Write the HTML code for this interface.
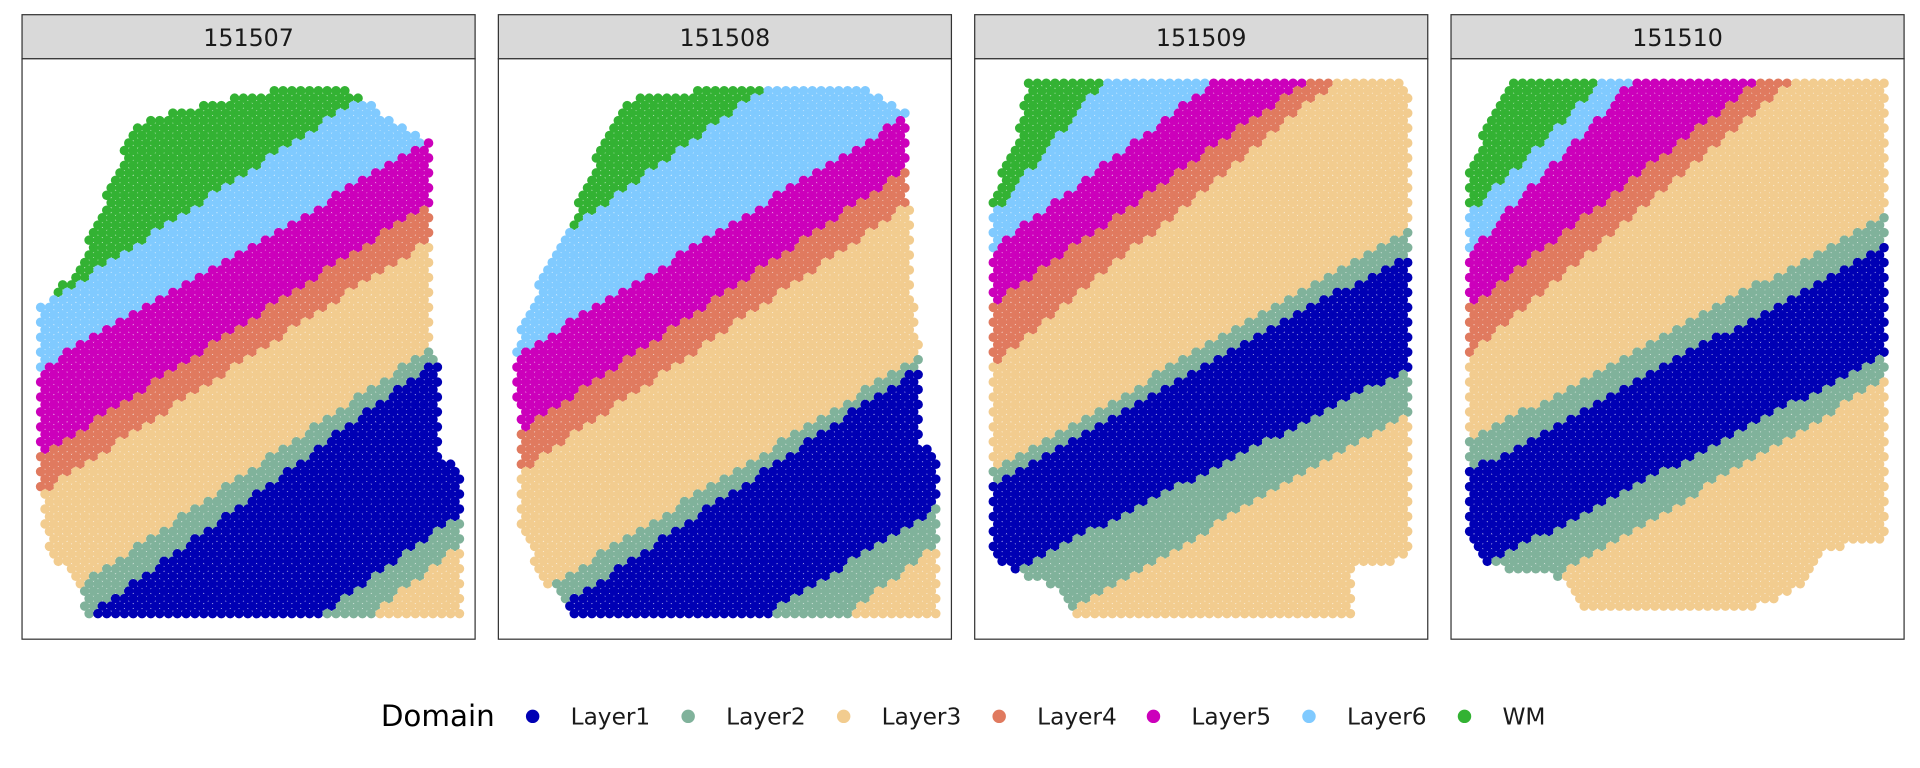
<!DOCTYPE html>
<html><head><meta charset="utf-8"><style>
body{margin:0;background:#fff;}
svg{display:block;font-family:"DejaVu Sans","Liberation Sans",sans-serif;}
</style></head><body>
<svg id="chart" width="1920" height="768" viewBox="0 0 1568 627.2" xmlns="http://www.w3.org/2000/svg"></svg>
<script>
const sampleIds = ["151507","151508","151509","151510"];
const layerNames = ["Layer1","Layer2","Layer3","Layer4","Layer5","Layer6","WM"];
const layerColors = ["#0000B4","#80B29B","#F2CC8F","#E07A5F","#CC00BB","#80CAFF","#33B233"];
const bandOrder = ["WM","Layer6","Layer5","Layer4","Layer3","Layer2","Layer1","Layer2","Layer3"];
// boundary lines per sample: [yAtLeftEdge, yAtRightEdge]
const boundaries1 = [[260,20],[309,93],[382,141],[412,172],[510,259],[543,271],[684,410],[730,435]];
const boundaries2 = [[231,-40],[299,72],[365,114],[397,143],[504,274],[529,282],[640,407],[731,435]];
const boundaries3 = [[193,-251],[214,-64],[259,-5],[310,4],[392,177],[402,198],[482,293],[545,327]];
const boundaries4 = [[190,-180],[221,-164],[262,-27],[303,-10],[368,167],[393,192],[476,282],[523,301]];
const tissue1 = [[65,215],[110,100],[150,90],[210,75],[250,70],[290,75],[330,105],[352,115],[352,280],[358,300],[360,375],[376,380],[376,503],[70,503],[60,470],[40,452],[33,400],[33,250],[45,238]];
const tissue2 = [[465,185],[500,95],[520,80],[580,72],[620,70],[700,68],[742,90],[742,140],[745,240],[752,290],[752,360],[765,370],[765,503],[470,503],[440,470],[425,430],[421,280],[440,230]];
const tissue3 = [[838,68],[1145,68],[1153,80],[1153,455],[1105,465],[1105,502],[880,503],[870,485],[820,462],[808,450],[808,165],[815,150],[830,110]];
const tissue4 = [[1230,68],[1541,68],[1541,440],[1490,450],[1470,480],[1430,498],[1290,498],[1280,472],[1215,463],[1200,440],[1200,140],[1215,95]];
const panels = [
 {x0:18,x1:388,b:boundaries1,t:tissue1},
 {x0:407,x1:777,b:boundaries2,t:tissue2},
 {x0:796,x1:1166,b:boundaries3,t:tissue3},
 {x0:1185,x1:1555,b:boundaries4,t:tissue4}];
const NS="http://www.w3.org/2000/svg";
const svg=document.getElementById('chart');
function mk(tag,attrs,parent){const e=document.createElementNS(NS,tag);for(const k in attrs)e.setAttribute(k,attrs[k]);(parent||svg).appendChild(e);return e;}
function inPoly(x,y,p){let c=false;for(let i=0,j=p.length-1;i<p.length;j=i++){const [xi,yi]=p[i],[xj,yj]=p[j];if(((yi>y)!=(yj>y))&&(x<(xj-xi)*(y-yi)/(yj-yi)+xi))c=!c;}return c;}
const plotTop=48,plotBot=522,stripTop=12;
panels.forEach((P,pi)=>{
 const g=mk('g',{});
 
 
 const strip=mk('rect',{x:P.x0,y:stripTop,width:P.x1-P.x0,height:plotTop-stripTop,fill:'#D9D9D9',stroke:'#333',"stroke-width":1},g);
 
 
 const st=mk('text',{x:(P.x0+P.x1)/2,y:37.5,"text-anchor":"middle","font-size":19.4,fill:'#1a1a1a'},g);
 st.textContent=sampleIds[pi];
 
 
 const fr=mk('rect',{x:P.x0,y:plotTop,width:P.x1-P.x0,height:plotBot-plotTop,fill:'#fff',stroke:'#333',"stroke-width":1},g);
 
 
 const w=P.x1-P.x0;
 let row=0;
 for(let y=68;y<=504;y+=6.1,row++){
  for(let x=P.x0+8+(row%2?3.6:0);x<P.x1;x+=7.2){
   if(!inPoly(x,y,P.t))continue;
   let band=0;
   P.b.forEach(([yl,yr])=>{const by=yl+(yr-yl)*(x-P.x0)/w;if(y>by)band++;});
   const li=layerNames.indexOf(bandOrder[band]);
   const c=mk('circle',{cx:x.toFixed(1),cy:y.toFixed(1),r:3.9,fill:layerColors[li]},g);
   
   
  }
 }
});
const lg=mk('g',{});


const lt=mk('text',{x:311,y:593,"font-size":24,fill:'#000'},lg);
lt.textContent='Domain';


const legendX=[435,562,689,816,942,1069,1196];
layerNames.forEach((n,i)=>{
 const d=mk('circle',{cx:legendX[i],cy:585,r:5.5,fill:layerColors[i]},lg);
 
 
 const t=mk('text',{x:legendX[i]+31,y:591.5,"font-size":19,fill:'#1a1a1a'},lg);
 t.textContent=n;
 
 
});
</script>
</body></html>
